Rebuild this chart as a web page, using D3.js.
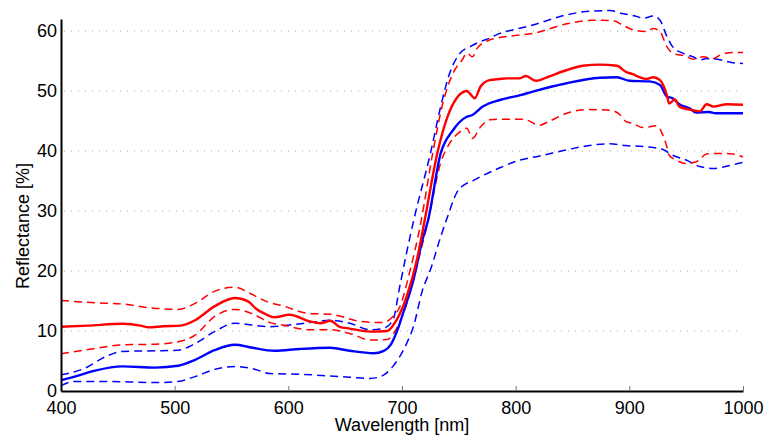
<!DOCTYPE html>
<html>
<head>
<meta charset="utf-8">
<script src="https://cdn.jsdelivr.net/npm/d3@7"></script>
<style>
  body { margin: 0; background: #fff; }
  svg { display: block; font-family: "Liberation Sans", Arial, sans-serif; }
</style>
</head>
<body>
<svg id="chart"></svg>
<script>
// spectra: [wavelength nm, reflectance %]
const redMean = [[400,10.7],[424,10.9],[454,11.2],[470,10.9],[477,10.6],[490,10.8],[505,10.9],[518,11.8],[535,14.1],[553,15.5],[565,14.9],[571,13.8],[580,12.8],[588,12.3],[601,12.7],[619,11.6],[628,11.3],[637,11.7],[645,10.7],[654,10.4],[672,9.9],[687,10.0],[692,10.9],[704,15.7],[713,21.8],[720,28.5],[731,39.6],[740,45.7],[748,48.8],[757,50],[760,49.5],[764,48.8],[769,50.7],[777,51.8],[786,52],[792,52.1],[803,52.1],[809,52.5],[818,51.7],[829,52.4],[845,53.5],[859,54.2],[874,54.4],[889,54.2],[897,53.2],[903,52.8],[909,52.3],[915,52],[921,52.3],[927,51.8],[933,49.3],[935,47.9],[940,48.6],[944,47.4],[956,46.8],[962,46.6],[968,47.8],[974,47.4],[986,47.8],[1000,47.7]];

const redUpper = [[400,15.1],[430,14.7],[454,14.5],[477,13.9],[503,13.6],[518,14.6],[535,16.6],[553,17.3],[566,16.3],[581,14.9],[595,14.2],[619,12.9],[637,12.8],[645,12.5],[663,11.6],[683,11.4],[692,12.4],[698,14],[707,20],[716,27.5],[727,39.6],[736,48],[745,53],[753,55.2],[757,56.3],[762,55.7],[766,57.1],[777,58.5],[786,58.9],[798,59.2],[815,59.6],[845,61.2],[868,61.8],[886,61.7],[894,61],[903,60.2],[915,59.9],[921,60.4],[927,59.9],[933,57.4],[938,56.3],[950,55.8],[956,55.3],[965,55.7],[974,55.4],[980,56],[991,56.4],[1000,56.4]];

const redLower = [[400,6.2],[430,7.1],[454,7.7],[483,7.8],[503,8.2],[518,9.3],[535,12.4],[553,13.6],[568,12.9],[584,11.4],[595,11],[619,10.2],[637,10.2],[654,9.6],[672,8.5],[687,8.6],[696,10.7],[707,16.3],[716,23],[722,27.5],[734,38],[742,41.3],[751,43.2],[757,43.8],[762,42.1],[769,44],[777,45.2],[786,45.3],[804,45.3],[809,45.2],[821,44.3],[829,44.9],[845,46.3],[862,46.9],[883,46.8],[892,46],[897,44.9],[903,44.6],[912,43.9],[924,44.2],[930,42.4],[933,40.7],[935,39.3],[941,38.5],[950,37.9],[959,38.2],[968,39.5],[980,39.6],[991,39.5],[1000,39]];

const blueMean = [[400,1.8],[412,2.4],[430,3.4],[454,4.1],[483,3.9],[503,4.2],[518,5.2],[535,6.8],[553,7.7],[566,7.3],[588,6.7],[610,7.0],[637,7.2],[654,6.7],[675,6.3],[684,6.7],[690,7.7],[697,10.7],[701,13],[710,18.5],[718,25.2],[723,28.5],[734,39.6],[745,43.5],[757,45.7],[762,46],[771,47.4],[786,48.5],[804,49.3],[815,49.9],[845,51.3],[874,52.2],[889,52.3],[900,51.7],[918,51.6],[927,51],[933,49.1],[938,48.8],[944,47.8],[953,47.1],[959,46.4],[970,46.5],[976,46.3],[1000,46.3]];

const blueUpper = [[400,2.7],[421,3.8],[439,5.7],[454,6.6],[483,6.7],[503,6.8],[518,7.9],[535,9.9],[553,11.3],[568,11],[584,10.7],[601,11],[619,11.4],[637,11.8],[654,11.3],[672,10.2],[683,10.4],[692,11.8],[698,17.4],[704,23],[711,29],[725,39.6],[734,47.4],[742,53],[751,56.3],[760,57.4],[766,58],[777,58.8],[786,59.6],[798,60.2],[815,61],[845,62.7],[865,63.3],[883,63.4],[894,62.9],[907,62.4],[912,62.1],[921,62.5],[927,61.8],[933,59.1],[938,57.4],[947,56.3],[956,55.7],[962,55.2],[968,55.4],[980,55.2],[991,54.7],[1000,54.6]];

const blueLower = [[400,0.9],[412,1.6],[439,1.6],[483,1.4],[503,1.6],[518,2.4],[535,3.6],[553,4.1],[571,3.6],[584,2.9],[610,2.8],[637,2.5],[654,2.3],[672,2.1],[681,2.4],[692,4.1],[704,7.9],[710,10.7],[718,16.8],[725,20.2],[734,25.7],[740,29],[748,33],[755,34.4],[762,35],[769,35.7],[786,37.2],[804,38.5],[822,39.2],[845,40.2],[868,41],[883,41.2],[897,40.9],[915,40.7],[930,40.2],[938,39.3],[950,38.5],[962,37.4],[974,37.1],[991,37.7],[1000,38.1]];

const xTicks = [400, 500, 600, 700, 800, 900, 1000],
  yTicks = [0, 10, 20, 30, 40, 50, 60];

const WIDTH = 764,
  HEIGHT = 436,
  FONT = 18,
  margin = {top: 19, right: 21, bottom: 45, left: 61};

const svg = d3.select("#chart")
  .attr("width", WIDTH)
  .attr("height", HEIGHT);

const x = d3.scaleLinear()
  .domain([400, 1000])
  .range([margin.left, WIDTH - margin.right]);

const y = d3.scaleLinear()
  .domain([0, 62])
  .range([HEIGHT - margin.bottom, margin.top]);

// dotted grid
svg.append("g")
  .selectAll("line")
  .data(yTicks.filter(d => d > 0))
  .enter()
  .append("line")
  .attr("x1", x(400) + 3)
  .attr("x2", x(1000))
  .attr("y1", d => y(d))
  .attr("y2", d => y(d))
  .attr("stroke", "#a8a8a8")
  .attr("stroke-width", 1)
  .attr("stroke-dasharray", "1,6");

const line = d3.line()
  .x(d => x(d[0]))
  .y(d => y(d[1]))
  .curve(d3.curveMonotoneX);

const series = [
  {data: blueUpper, color: "#0000ff", dash: true},
  {data: blueLower, color: "#0000ff", dash: true},
  {data: redUpper, color: "#ff0000", dash: true},
  {data: redLower, color: "#ff0000", dash: true},
  {data: blueMean, color: "#0000ff", dash: false},
  {data: redMean, color: "#ff0000", dash: false}
];

svg.append("g")
  .selectAll("path")
  .data(series)
  .enter()
  .append("path")
  .attr("d", d => line(d.data))
  .attr("fill", "none")
  .attr("stroke", d => d.color)
  .attr("stroke-width", d => d.dash ? 1.5 : 2.4)
  .attr("stroke-dasharray", d => d.dash ? "8,5" : null)
  .attr("stroke-linejoin", "round");

// axes
const xAxis = svg.append("g")
  .attr("transform", `translate(0,${y(0)})`)
  .call(d3.axisBottom(x).tickValues(xTicks).tickFormat(d3.format("d"))
    .tickSizeInner(-5).tickSizeOuter(0).tickPadding(10));

const yAxis = svg.append("g")
  .attr("transform", `translate(${x(400)},0)`)
  .call(d3.axisLeft(y).tickValues(yTicks).tickFormat(d3.format("d"))
    .tickSizeInner(0).tickSizeOuter(0).tickPadding(4));

[xAxis, yAxis].forEach(a => {
  a.select(".domain").attr("stroke", "#000").attr("stroke-width", 2);
  a.selectAll("text").attr("font-size", FONT).attr("fill", "#000")
    .attr("font-family", "'Liberation Sans', Arial, sans-serif");
  a.selectAll(".tick line").attr("stroke", "#777").attr("stroke-width", 1);
});

svg.append("text")
  .attr("x", (x(400) + x(1000)) / 2)
  .attr("y", 431)
  .attr("text-anchor", "middle")
  .attr("font-size", FONT)
  .text("Wavelength [nm]");

svg.append("text")
  .attr("transform", "translate(29,226) rotate(-90)")
  .attr("text-anchor", "middle")
  .attr("font-size", FONT)
  .text("Reflectance [%]");
</script>
</body>
</html>
